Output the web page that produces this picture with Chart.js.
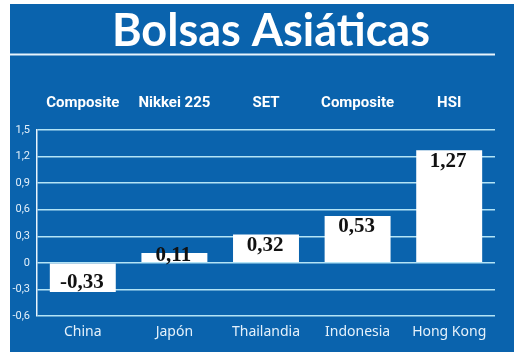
<!DOCTYPE html>
<html>
<head>
<meta charset="utf-8">
<script src="https://cdn.jsdelivr.net/npm/chart.js@4"></script>
<style>
  html, body { margin: 0; padding: 0; background: #ffffff; }
  #c { display: block; }
</style>
</head>
<body>
<canvas id="c" width="520" height="356"></canvas>
<script>
const titleText = 'Bolsas Asiáticas';
const countries = ['China', 'Japón', 'Thailandia', 'Indonesia', 'Hong Kong'];
const indexNames = ['Composite', 'Nikkei 225', 'SET', 'Composite', 'HSI'];
const changes = [-0.33, 0.11, 0.32, 0.53, 1.27];
const valueLabels = ['-0,33', '0,11', '0,32', '0,53', '1,27'];
const yMin = -0.6, yMax = 1.5, yStep = 0.3;

const BLUE = '#0a63ad';
const GRID = '#b3e4f6';

const decor = {
  id: 'decor',
  beforeDraw(chart) {
    const ctx = chart.ctx;
    ctx.save();
    ctx.fillStyle = '#ffffff';
    ctx.fillRect(0, 0, chart.width, chart.height);
    ctx.fillStyle = BLUE;
    ctx.fillRect(10, 4, 504, 348);
    ctx.fillStyle = '#ffffff';
    ctx.font = 'bold 45px Lato, "Open Sans", sans-serif';
    ctx.textAlign = 'center';
    ctx.textBaseline = 'alphabetic';
    ctx.fillText(titleText, 271, 46);
    ctx.strokeStyle = '#e8f4fc';
    ctx.lineWidth = 2;
    ctx.beginPath();
    ctx.moveTo(10, 54.5);
    ctx.lineTo(495, 54.5);
    ctx.stroke();
    ctx.restore();
  },
  afterDatasetsDraw(chart) {
    const ctx = chart.ctx;
    const meta = chart.getDatasetMeta(0);
    const y = chart.scales.y;
    const zero = y.getPixelForValue(0);
    ctx.save();
    ctx.fillStyle = '#111111';
    ctx.font = 'bold 21px "Liberation Serif", "Times New Roman", serif';
    ctx.textAlign = 'center';
    ctx.textBaseline = 'alphabetic';
    meta.data.forEach((bar, i) => {
      const v = changes[i];
      const top = y.getPixelForValue(v);
      let base;
      if (v >= 0) {
        base = Math.min(top + 16.5, zero - 2);
      } else {
        base = zero + 25;
      }
      ctx.fillText(valueLabels[i], bar.x - 1, base);
    });
    ctx.restore();
  }
};

new Chart(document.getElementById('c'), {
  type: 'bar',
  data: {
    labels: countries,
    datasets: [{
      data: changes,
      backgroundColor: '#ffffff',
      borderWidth: 0,
      barPercentage: 0.72,
      categoryPercentage: 1.0
    }]
  },
  options: {
    responsive: false,
    animation: false,
    devicePixelRatio: 1,
    layout: { padding: { left: 10, right: 25, top: 60, bottom: 0 } },
    plugins: { legend: { display: false }, tooltip: { enabled: false }, title: { display: false } },
    scales: {
      x: {
        position: 'bottom',
        grid: { display: false },
        border: { display: false },
        ticks: {
          color: '#e4f1fb',
          font: { family: '"Noto Sans", "Open Sans", sans-serif', size: 14 },
          padding: 0,
          maxRotation: 0,
          autoSkip: false
        },
        afterFit(s) { s.height = 40; }
      },
      xTop: {
        type: 'category',
        labels: indexNames,
        position: 'top',
        grid: { display: false },
        border: { display: false },
        ticks: {
          color: '#ffffff',
          font: { family: 'Roboto, "Liberation Sans", sans-serif', size: 15, weight: 'bold' },
          padding: 10,
          maxRotation: 0,
          autoSkip: false
        },
        afterFit(s) { s.height = 70; }
      },
      y: {
        min: yMin,
        max: yMax,
        grid: { color: GRID, lineWidth: 1.5, drawTicks: false },
        border: { display: true, color: '#e8f4fc', width: 1.5 },
        ticks: {
          stepSize: yStep,
          color: '#e4f1fb',
          padding: 7,
          font: { family: 'Roboto, "Open Sans", sans-serif', size: 11 },
          callback(v) {
            const r = Math.round(v * 10) / 10;
            return r === 0 ? '0' : r.toFixed(1).replace('.', ',');
          }
        },
        afterFit(s) { s.width = 27; }
      }
    }
  },
  plugins: [decor]
});
</script>
</body>
</html>
